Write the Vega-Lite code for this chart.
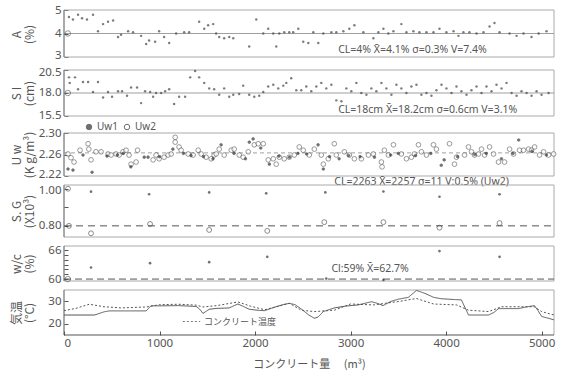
{
"$schema": "https://vega.github.io/schema/vega-lite/v6.json",
"padding": {"left": 10, "top": 4, "right": 9, "bottom": 2},
"background": "white",
"config": {
  "font": "Noto Sans CJK JP",
  "view": {"stroke": null},
  "axis": {"domain": false, "tickColor": "#555", "labelColor": "#555", "titleColor": "#555", "labelFontSize": 11.5, "labelFont": "Noto Sans", "titleFontSize": 12, "titleFontWeight": "normal", "titleFont": "Noto Sans CJK JP", "grid": false, "tickSize": -4, "labelPadding": 7, "titleLineHeight": 13},
  "legend": {"labelColor": "#555", "labelFont": "Noto Sans CJK JP"}
},
"datasets": {
  "A": [
    {"x":52,"v":4.7},{"x":94,"v":4.6},{"x":147,"v":4.8},{"x":189,"v":4.65},{"x":241,"v":4.6},{"x":304,"v":4.8},{"x":356,"v":4.1},{"x":409,"v":4.4},{"x":461,"v":4.5},{"x":514,"v":4.55},{"x":566,"v":3.85},{"x":597,"v":3.95},{"x":671,"v":4.1},{"x":723,"v":4.05},{"x":807,"v":3.9},{"x":860,"v":3.55},{"x":891,"v":3.7},{"x":954,"v":3.65},{"x":996,"v":4.1},{"x":1048,"v":3.85},{"x":1101,"v":3.6},{"x":1174,"v":4.0},{"x":1258,"v":4.05},{"x":1310,"v":4.05},{"x":1415,"v":4.5},{"x":1468,"v":4.2},{"x":1509,"v":4.35},{"x":1562,"v":4.4},{"x":1593,"v":4.0},{"x":1625,"v":3.85},{"x":1677,"v":3.8},{"x":1730,"v":3.85},{"x":1772,"v":3.8},{"x":1939,"v":3.45},{"x":2013,"v":4.6},{"x":2086,"v":4.0},{"x":2138,"v":4.2},{"x":2191,"v":4.0},{"x":2222,"v":3.45},{"x":2254,"v":4.0},{"x":2306,"v":4.05},{"x":2358,"v":4.05},{"x":2400,"v":4.05},{"x":2453,"v":4.2},{"x":2505,"v":3.65},{"x":2558,"v":3.6},{"x":2610,"v":4.05},{"x":2662,"v":3.6},{"x":2715,"v":4.0},{"x":2799,"v":4.05},{"x":2851,"v":4.05},{"x":2925,"v":4.1},{"x":2987,"v":4.2},{"x":3040,"v":4.35},{"x":3134,"v":4.05},{"x":3239,"v":3.8},{"x":3291,"v":4.05},{"x":3344,"v":4.2},{"x":3396,"v":4.0},{"x":3449,"v":4.1},{"x":3532,"v":4.4},{"x":3585,"v":4.05},{"x":3658,"v":4.1},{"x":3721,"v":4.05},{"x":3795,"v":4.05},{"x":3868,"v":4.05},{"x":3931,"v":4.2},{"x":4004,"v":4.05},{"x":4078,"v":4.1},{"x":4130,"v":3.9},{"x":4182,"v":4.05},{"x":4245,"v":4.05},{"x":4319,"v":4.0},{"x":4392,"v":4.05},{"x":4455,"v":4.3},{"x":4507,"v":4.45},{"x":4560,"v":4.05},{"x":4665,"v":4.0},{"x":4738,"v":3.9},{"x":4811,"v":4.0},{"x":4895,"v":3.85},{"x":4969,"v":4.0},{"x":5052,"v":4.1}
  ],
  "SI": [
    {"x":52,"v":19.7},{"x":60,"v":19.1},{"x":115,"v":19.7},{"x":147,"v":18.4},{"x":199,"v":19.2},{"x":252,"v":19.2},{"x":304,"v":18.1},{"x":356,"v":19.2},{"x":409,"v":17.5},{"x":461,"v":18.1},{"x":503,"v":17.6},{"x":566,"v":18.2},{"x":608,"v":18.2},{"x":660,"v":17.7},{"x":702,"v":18.6},{"x":765,"v":18.6},{"x":807,"v":16.9},{"x":849,"v":18.2},{"x":902,"v":18.1},{"x":933,"v":17.6},{"x":964,"v":18.0},{"x":1017,"v":18.0},{"x":1059,"v":18.2},{"x":1101,"v":18.4},{"x":1153,"v":16.8},{"x":1205,"v":17.6},{"x":1268,"v":17.6},{"x":1321,"v":19.7},{"x":1373,"v":20.4},{"x":1415,"v":19.7},{"x":1468,"v":19.1},{"x":1520,"v":18.5},{"x":1572,"v":18.4},{"x":1625,"v":17.8},{"x":1677,"v":18.5},{"x":1730,"v":17.6},{"x":1772,"v":17.8},{"x":1834,"v":17.9},{"x":1876,"v":18.8},{"x":1939,"v":17.8},{"x":1992,"v":17.6},{"x":2044,"v":17.7},{"x":2086,"v":18.1},{"x":2138,"v":18.7},{"x":2191,"v":18.9},{"x":2243,"v":18.5},{"x":2296,"v":18.8},{"x":2327,"v":19.1},{"x":2379,"v":19.6},{"x":2432,"v":18.3},{"x":2484,"v":18.3},{"x":2537,"v":18.7},{"x":2589,"v":18.2},{"x":2642,"v":18.7},{"x":2694,"v":19.1},{"x":2746,"v":18.5},{"x":2799,"v":18.9},{"x":2851,"v":17.2},{"x":2904,"v":17.1},{"x":2956,"v":18.5},{"x":3008,"v":18.2},{"x":3061,"v":19.1},{"x":3113,"v":18.0},{"x":3166,"v":17.8},{"x":3218,"v":18.5},{"x":3270,"v":18.2},{"x":3323,"v":19.1},{"x":3375,"v":18.5},{"x":3428,"v":17.8},{"x":3480,"v":18.9},{"x":3532,"v":18.5},{"x":3585,"v":18.0},{"x":3637,"v":18.7},{"x":3690,"v":18.9},{"x":3742,"v":17.8},{"x":3795,"v":18.0},{"x":3847,"v":17.7},{"x":3899,"v":18.3},{"x":3952,"v":18.9},{"x":4004,"v":18.5},{"x":4057,"v":18.0},{"x":4109,"v":18.7},{"x":4161,"v":18.2},{"x":4214,"v":17.8},{"x":4266,"v":18.3},{"x":4319,"v":18.7},{"x":4371,"v":18.0},{"x":4423,"v":18.7},{"x":4476,"v":18.2},{"x":4528,"v":18.9},{"x":4581,"v":18.5},{"x":4633,"v":19.1},{"x":4686,"v":18.0},{"x":4738,"v":17.7},{"x":4790,"v":18.2},{"x":4843,"v":18.0},{"x":4895,"v":17.7},{"x":4948,"v":18.2},{"x":5000,"v":17.8},{"x":5073,"v":18.0}
  ],
  "Uw": [
    {"x":42,"v":2.261,"s":"Uw2"},{"x":73,"v":2.254,"s":"Uw2"},{"x":105,"v":2.246,"s":"Uw2"},{"x":168,"v":2.268,"s":"Uw2"},{"x":252,"v":2.28,"s":"Uw2"},{"x":260,"v":2.27,"s":"Uw2"},{"x":283,"v":2.25,"s":"Uw2"},{"x":335,"v":2.265,"s":"Uw2"},{"x":388,"v":2.265,"s":"Uw2"},{"x":461,"v":2.261,"s":"Uw2"},{"x":493,"v":2.259,"s":"Uw2"},{"x":545,"v":2.261,"s":"Uw2"},{"x":577,"v":2.259,"s":"Uw2"},{"x":618,"v":2.265,"s":"Uw2"},{"x":650,"v":2.268,"s":"Uw2"},{"x":681,"v":2.259,"s":"Uw2"},{"x":702,"v":2.242,"s":"Uw2"},{"x":755,"v":2.246,"s":"Uw2"},{"x":770,"v":2.268,"s":"Uw2"},{"x":933,"v":2.25,"s":"Uw2"},{"x":964,"v":2.259,"s":"Uw2"},{"x":996,"v":2.252,"s":"Uw2"},{"x":1048,"v":2.255,"s":"Uw2"},{"x":1090,"v":2.259,"s":"Uw2"},{"x":1122,"v":2.261,"s":"Uw2"},{"x":1164,"v":2.292,"s":"Uw2"},{"x":1164,"v":2.283,"s":"Uw2"},{"x":1205,"v":2.274,"s":"Uw2"},{"x":1226,"v":2.268,"s":"Uw2"},{"x":1300,"v":2.261,"s":"Uw2"},{"x":1352,"v":2.259,"s":"Uw2"},{"x":1405,"v":2.268,"s":"Uw2"},{"x":1436,"v":2.261,"s":"Uw2"},{"x":1488,"v":2.255,"s":"Uw2"},{"x":1541,"v":2.252,"s":"Uw2"},{"x":1572,"v":2.259,"s":"Uw2"},{"x":1593,"v":2.261,"s":"Uw2"},{"x":1625,"v":2.27,"s":"Uw2"},
    {"x":1677,"v":2.259,"s":"Uw2"},{"x":1751,"v":2.268,"s":"Uw2"},{"x":1782,"v":2.27,"s":"Uw2"},{"x":1834,"v":2.259,"s":"Uw2"},{"x":1876,"v":2.255,"s":"Uw2"},{"x":1929,"v":2.265,"s":"Uw2"},{"x":1992,"v":2.278,"s":"Uw2"},{"x":2034,"v":2.28,"s":"Uw2"},{"x":2086,"v":2.28,"s":"Uw2"},{"x":2138,"v":2.25,"s":"Uw2"},{"x":2191,"v":2.252,"s":"Uw2"},{"x":2222,"v":2.242,"s":"Uw2"},{"x":2254,"v":2.255,"s":"Uw2"},{"x":2306,"v":2.252,"s":"Uw2"},{"x":2358,"v":2.255,"s":"Uw2"},{"x":2411,"v":2.259,"s":"Uw2"},{"x":2463,"v":2.274,"s":"Uw2"},{"x":2505,"v":2.268,"s":"Uw2"},{"x":2568,"v":2.259,"s":"Uw2"},{"x":2621,"v":2.27,"s":"Uw2"},{"x":2694,"v":2.259,"s":"Uw2"},{"x":2715,"v":2.242,"s":"Uw2"},{"x":2767,"v":2.252,"s":"Uw2"},{"x":2830,"v":2.28,"s":"Uw2"},{"x":2851,"v":2.259,"s":"Uw2"},{"x":2935,"v":2.265,"s":"Uw2"},{"x":2987,"v":2.259,"s":"Uw2"},{"x":3040,"v":2.252,"s":"Uw2"},{"x":3113,"v":2.252,"s":"Uw2"},{"x":3187,"v":2.259,"s":"Uw2"},{"x":3239,"v":2.261,"s":"Uw2"},{"x":3323,"v":2.246,"s":"Uw2"},{"x":3330,"v":2.237,"s":"Uw2"},{"x":3354,"v":2.268,"s":"Uw2"},{"x":3396,"v":2.259,"s":"Uw2"},
    {"x":3449,"v":2.278,"s":"Uw2"},{"x":3532,"v":2.261,"s":"Uw2"},{"x":3585,"v":2.252,"s":"Uw2"},{"x":3637,"v":2.255,"s":"Uw2"},{"x":3669,"v":2.261,"s":"Uw2"},{"x":3711,"v":2.278,"s":"Uw2"},{"x":3742,"v":2.265,"s":"Uw2"},{"x":3795,"v":2.259,"s":"Uw2"},{"x":3868,"v":2.278,"s":"Uw2"},{"x":3899,"v":2.27,"s":"Uw2"},{"x":4036,"v":2.28,"s":"Uw2"},{"x":4088,"v":2.242,"s":"Uw2"},{"x":4109,"v":2.255,"s":"Uw2"},{"x":4193,"v":2.259,"s":"Uw2"},{"x":4235,"v":2.274,"s":"Uw2"},{"x":4266,"v":2.265,"s":"Uw2"},{"x":4298,"v":2.259,"s":"Uw2"},{"x":4340,"v":2.261,"s":"Uw2"},{"x":4371,"v":2.27,"s":"Uw2"},{"x":4403,"v":2.259,"s":"Uw2"},{"x":4455,"v":2.274,"s":"Uw2"},{"x":4497,"v":2.261,"s":"Uw2"},{"x":4549,"v":2.246,"s":"Uw2"},{"x":4612,"v":2.246,"s":"Uw2"},{"x":4665,"v":2.27,"s":"Uw2"},{"x":4706,"v":2.261,"s":"Uw2"},{"x":4769,"v":2.268,"s":"Uw2"},{"x":4811,"v":2.268,"s":"Uw2"},{"x":4864,"v":2.27,"s":"Uw2"},{"x":4895,"v":2.268,"s":"Uw2"},{"x":4927,"v":2.274,"s":"Uw2"},{"x":4979,"v":2.259,"s":"Uw2"},{"x":5021,"v":2.265,"s":"Uw2"},{"x":5073,"v":2.259,"s":"Uw2"},{"x":5126,"v":2.261,"s":"Uw2"},
    {"x":42,"v":2.233,"s":"Uw1"},{"x":94,"v":2.231,"s":"Uw1"},{"x":199,"v":2.259,"s":"Uw1"},{"x":294,"v":2.227,"s":"Uw1"},{"x":450,"v":2.257,"s":"Uw1"},{"x":560,"v":2.259,"s":"Uw1"},{"x":620,"v":2.262,"s":"Uw1"},{"x":700,"v":2.237,"s":"Uw1"},{"x":840,"v":2.255,"s":"Uw1"},{"x":880,"v":2.255,"s":"Uw1"},{"x":1000,"v":2.256,"s":"Uw1"},{"x":1140,"v":2.27,"s":"Uw1"},{"x":1250,"v":2.262,"s":"Uw1"},{"x":1330,"v":2.258,"s":"Uw1"},{"x":1460,"v":2.256,"s":"Uw1"},{"x":1560,"v":2.252,"s":"Uw1"},{"x":1645,"v":2.278,"s":"Uw1"},{"x":1780,"v":2.262,"s":"Uw1"},{"x":1900,"v":2.252,"s":"Uw1"},{"x":1940,"v":2.283,"s":"Uw1"},{"x":1980,"v":2.289,"s":"Uw1"},{"x":2060,"v":2.272,"s":"Uw1"},{"x":2150,"v":2.242,"s":"Uw1"},{"x":2250,"v":2.257,"s":"Uw1"},{"x":2360,"v":2.255,"s":"Uw1"},{"x":2450,"v":2.262,"s":"Uw1"},{"x":2540,"v":2.261,"s":"Uw1"},{"x":2660,"v":2.278,"s":"Uw1"},{"x":2715,"v":2.233,"s":"Uw1"},{"x":2780,"v":2.256,"s":"Uw1"},{"x":2880,"v":2.252,"s":"Uw1"},{"x":2980,"v":2.258,"s":"Uw1"},{"x":3100,"v":2.256,"s":"Uw1"},{"x":3250,"v":2.255,"s":"Uw1"},{"x":3420,"v":2.259,"s":"Uw1"},{"x":3500,"v":2.262,"s":"Uw1"},{"x":3680,"v":2.258,"s":"Uw1"},{"x":3840,"v":2.262,"s":"Uw1"},{"x":3950,"v":2.24,"s":"Uw1"},{"x":3980,"v":2.25,"s":"Uw1"},{"x":4120,"v":2.256,"s":"Uw1"},{"x":4300,"v":2.26,"s":"Uw1"},{"x":4420,"v":2.262,"s":"Uw1"},{"x":4580,"v":2.252,"s":"Uw1"},{"x":4700,"v":2.262,"s":"Uw1"},{"x":4760,"v":2.287,"s":"Uw1"},{"x":4900,"v":2.266,"s":"Uw1"},{"x":5050,"v":2.259,"s":"Uw1"}
  ],
  "SG": [
    {"x":42,"v":1.0,"s":"Uw2"},{"x":52,"v":0.8,"s":"Uw2"},{"x":283,"v":0.76,"s":"Uw2"},{"x":901,"v":0.81,"s":"Uw2"},{"x":1520,"v":0.778,"s":"Uw2"},{"x":2128,"v":0.773,"s":"Uw2"},{"x":2725,"v":0.82,"s":"Uw2"},{"x":3344,"v":0.82,"s":"Uw2"},{"x":3931,"v":0.79,"s":"Uw2"},{"x":4560,"v":0.815,"s":"Uw2"},
    {"x":283,"v":0.984,"s":"Uw1"},{"x":891,"v":0.97,"s":"Uw1"},{"x":1520,"v":0.98,"s":"Uw1"},{"x":2117,"v":0.975,"s":"Uw1"},{"x":2736,"v":0.98,"s":"Uw1"},{"x":3344,"v":0.985,"s":"Uw1"},{"x":3931,"v":0.957,"s":"Uw1"},{"x":4560,"v":0.97,"s":"Uw1"}
  ],
  "WC": [
    {"x":283,"v":62.4},{"x":901,"v":63.3},{"x":1520,"v":63.5},{"x":2128,"v":64.6},{"x":2746,"v":60.1},{"x":3344,"v":59.8},{"x":3931,"v":65.8},{"x":4560,"v":64.6}
  ],
  "T": [
    {"x":0,"v":23.9,"s":"気温"},{"x":320,"v":23.9,"s":"気温"},{"x":420,"v":25.3,"s":"気温"},{"x":475,"v":25.7,"s":"気温"},{"x":860,"v":25.7,"s":"気温"},{"x":910,"v":27.9,"s":"気温"},{"x":1000,"v":27.9,"s":"気温"},{"x":1200,"v":28.0,"s":"気温"},{"x":1300,"v":27.8,"s":"気温"},{"x":1385,"v":27.6,"s":"気温"},{"x":1420,"v":26.5,"s":"気温"},{"x":1455,"v":24.6,"s":"気温"},{"x":1520,"v":26.4,"s":"気温"},{"x":1600,"v":26.8,"s":"気温"},{"x":1680,"v":26.9,"s":"気温"},{"x":1730,"v":27.0,"s":"気温"},{"x":1820,"v":28.7,"s":"気温"},{"x":1880,"v":27.6,"s":"気温"},{"x":1940,"v":26.4,"s":"気温"},{"x":2045,"v":25.9,"s":"気温"},{"x":2100,"v":25.8,"s":"気温"},{"x":2220,"v":27.5,"s":"気温"},{"x":2300,"v":28.5,"s":"気温"},{"x":2360,"v":29.0,"s":"気温"},{"x":2420,"v":28.4,"s":"気温"},{"x":2485,"v":26.5,"s":"気温"},{"x":2560,"v":24.0,"s":"気温"},{"x":2620,"v":22.5,"s":"気温"},{"x":2660,"v":23.0,"s":"気温"},{"x":2715,"v":25.4,"s":"気温"},{"x":2830,"v":27.0,"s":"気温"},{"x":2950,"v":27.8,"s":"気温"},{"x":3080,"v":28.3,"s":"気温"},{"x":3220,"v":29.7,"s":"気温"},{"x":3280,"v":29.0,"s":"気温"},{"x":3340,"v":28.0,"s":"気温"},{"x":3420,"v":29.8,"s":"気温"},{"x":3500,"v":30.8,"s":"気温"},{"x":3605,"v":31.6,"s":"気温"},{"x":3690,"v":34.6,"s":"気温"},{"x":3780,"v":33.3,"s":"気温"},{"x":3870,"v":31.6,"s":"気温"},{"x":3950,"v":31.0,"s":"気温"},{"x":4100,"v":30.6,"s":"気温"},{"x":4160,"v":30.5,"s":"気温"},{"x":4200,"v":27.0,"s":"気温"},{"x":4235,"v":23.9,"s":"気温"},{"x":4445,"v":23.9,"s":"気温"},{"x":4500,"v":25.0,"s":"気温"},{"x":4550,"v":26.7,"s":"気温"},{"x":4760,"v":26.7,"s":"気温"},{"x":4850,"v":27.5,"s":"気温"},{"x":4925,"v":28.0,"s":"気温"},{"x":4960,"v":26.0,"s":"気温"},{"x":5000,"v":23.3,"s":"気温"},{"x":5130,"v":21.8,"s":"気温"},
    {"x":0,"v":25.8,"s":"コンクリート温度"},{"x":125,"v":26.8,"s":"コンクリート温度"},{"x":265,"v":28.6,"s":"コンクリート温度"},{"x":420,"v":27.5,"s":"コンクリート温度"},{"x":600,"v":27.0,"s":"コンクリート温度"},{"x":860,"v":27.4,"s":"コンクリート温度"},{"x":1000,"v":28.4,"s":"コンクリート温度"},{"x":1200,"v":28.6,"s":"コンクリート温度"},{"x":1385,"v":28.2,"s":"コンクリート温度"},{"x":1455,"v":27.4,"s":"コンクリート温度"},{"x":1600,"v":28.0,"s":"コンクリート温度"},{"x":1820,"v":29.6,"s":"コンクリート温度"},{"x":1950,"v":27.8,"s":"コンクリート温度"},{"x":2100,"v":26.2,"s":"コンクリート温度"},{"x":2360,"v":29.0,"s":"コンクリート温度"},{"x":2485,"v":26.0,"s":"コンクリート温度"},{"x":2620,"v":25.4,"s":"コンクリート温度"},{"x":2830,"v":26.0,"s":"コンクリート温度"},{"x":3000,"v":28.7,"s":"コンクリート温度"},{"x":3240,"v":28.3,"s":"コンクリート温度"},{"x":3520,"v":29.9,"s":"コンクリート温度"},{"x":3690,"v":31.1,"s":"コンクリート温度"},{"x":3870,"v":28.7,"s":"コンクリート温度"},{"x":4110,"v":28.3,"s":"コンクリート温度"},{"x":4235,"v":26.0,"s":"コンクリート温度"},{"x":4445,"v":25.4,"s":"コンクリート温度"},{"x":4580,"v":27.5,"s":"コンクリート温度"},{"x":4925,"v":27.5,"s":"コンクリート温度"},{"x":5000,"v":25.4,"s":"コンクリート温度"},{"x":5130,"v":23.9,"s":"コンクリート温度"}
  ]
},
"bounds": "flush",
"spacing": 9,
"resolve": {"scale": {"y": "independent", "fill": "independent", "strokeDash": "independent"}, "legend": {"fill": "independent", "strokeDash": "independent"}},
"vconcat": [
  {
    "width": 490, "height": 51,
    "encoding": {
      "x": {"field": "x", "type": "quantitative", "scale": {"domain": [0, 5130]}, "axis": null},
      "y": {"field": "v", "type": "quantitative", "scale": {"domain": [2.83, 5]}, "axis": {"values": [3, 4, 5], "format": "d", "labelOffset": {"condition": {"test": "datum.value == 3", "value": -2}, "value": 0}, "title": ["A", "(%)"], "titleX": -41, "titleY": 24}}
    },
    "layer": [
      {"data": {"values": [{"x":0,"x2":5130,"v":5,"v2":5},{"x":0,"x2":5130,"v":3,"v2":3},{"x":5130,"x2":5130,"v":3,"v2":5}]}, "mark": {"type": "rule", "color": "#aaa", "strokeWidth": 1}, "encoding": {"x2": {"field": "x2"}, "y2": {"field": "v2"}}},
      {"data": {"values": [{"x":0,"x2":0,"v":3,"v2":5}]}, "mark": {"type": "rule", "color": "#555", "strokeWidth": 1}, "encoding": {"x2": {"field": "x2"}, "y2": {"field": "v2"}}},
      {"data": {"values": [{"x": 0, "x2": 5130, "v": 4}]}, "mark": {"type": "rule", "color": "#888", "strokeWidth": 0.8}, "encoding": {"x2": {"field": "x2"}}},
      {"data": {"name": "A"}, "mark": {"type": "point", "filled": true, "size": 6, "color": "#444"}},
      {"data": {"values": [{"x": 40, "v": 4}]}, "mark": {"type": "point", "size": 30, "color": "#444", "strokeWidth": 0.8}},
      {"data": {"values": [{"x": 2870, "v": 3.28, "t": "CL=4%  X̄=4.1%  σ=0.3%   V=7.4%"}]}, "mark": {"type": "text", "align": "left", "baseline": "middle", "fontSize": 10.5, "font": "Noto Sans", "color": "#555"}, "encoding": {"text": {"field": "t"}}}
    ]
  },
  {
    "width": 490, "height": 54,
    "encoding": {
      "x": {"field": "x", "type": "quantitative", "scale": {"domain": [0, 5130]}, "axis": null},
      "y": {"field": "v", "type": "quantitative", "scale": {"domain": [14.63, 20.5]}, "axis": {"values": [15.5, 18, 20.5], "format": ".1f", "labelOffset": {"condition": {"test": "datum.value == 20.5", "value": 2}, "value": 0}, "title": ["S I", "(cm)"], "titleX": -41, "titleY": 23}}
    },
    "layer": [
      {"data": {"values": [{"x":0,"x2":5130,"v":20.5,"v2":20.5},{"x":0,"x2":5130,"v":15.5,"v2":15.5},{"x":5130,"x2":5130,"v":15.5,"v2":20.5}]}, "mark": {"type": "rule", "color": "#aaa", "strokeWidth": 1}, "encoding": {"x2": {"field": "x2"}, "y2": {"field": "v2"}}},
      {"data": {"values": [{"x":0,"x2":0,"v":15.5,"v2":20.5}]}, "mark": {"type": "rule", "color": "#555", "strokeWidth": 1}, "encoding": {"x2": {"field": "x2"}, "y2": {"field": "v2"}}},
      {"data": {"values": [{"x": 0, "x2": 5130, "v": 18}]}, "mark": {"type": "rule", "color": "#888", "strokeWidth": 0.8}, "encoding": {"x2": {"field": "x2"}}},
      {"data": {"name": "SI"}, "mark": {"type": "point", "filled": true, "size": 6, "color": "#444"}},
      {"data": {"values": [{"x": 40, "v": 18}]}, "mark": {"type": "point", "size": 30, "color": "#444", "strokeWidth": 0.8}},
      {"data": {"values": [{"x": 2870, "v": 16.2, "t": "CL=18cm  X̄=18.2cm σ=0.6cm  V=3.1%"}]}, "mark": {"type": "text", "align": "left", "baseline": "middle", "fontSize": 10.5, "font": "Noto Sans", "color": "#555"}, "encoding": {"text": {"field": "t"}}}
    ]
  },
  {
    "width": 490, "height": 43,
    "encoding": {
      "x": {"field": "x", "type": "quantitative", "scale": {"domain": [0, 5130]}, "axis": null},
      "y": {"field": "v", "type": "quantitative", "scale": {"domain": [2.22, 2.30]}, "axis": {"values": [2.22, 2.26, 2.30], "format": ".2f", "labelOffset": {"condition": {"test": "datum.value < 2.225", "value": -2}, "value": 0}, "title": ["U w", "(K g/m³)"], "titleX": -41}}
    },
    "layer": [
      {"data": {"values": [{"x":0,"x2":5130,"v":2.30,"v2":2.30},{"x":0,"x2":5130,"v":2.22,"v2":2.22},{"x":5130,"x2":5130,"v":2.22,"v2":2.30}]}, "mark": {"type": "rule", "color": "#aaa", "strokeWidth": 1}, "encoding": {"x2": {"field": "x2"}, "y2": {"field": "v2"}}},
      {"data": {"values": [{"x":0,"x2":0,"v":2.22,"v2":2.30}]}, "mark": {"type": "rule", "color": "#555", "strokeWidth": 1}, "encoding": {"x2": {"field": "x2"}, "y2": {"field": "v2"}}},
      {"data": {"values": [{"x": 0, "x2": 5130, "v": 2.263}]}, "mark": {"type": "rule", "color": "#888", "strokeWidth": 0.8, "strokeDash": [4, 3]}, "encoding": {"x2": {"field": "x2"}}},
      {"data": {"name": "Uw"}, "transform": [{"filter": "datum.s == 'Uw2'"}], "mark": {"type": "point", "filled": true, "size": 22, "stroke": "#333", "strokeWidth": 0.7},
       "encoding": {
         "fill": {"field": "s", "type": "nominal", "scale": {"domain": ["Uw1", "Uw2"], "range": ["#333333", "#ffffff"]},
                  "legend": {"orient": "none", "legendX": 20, "legendY": -11, "direction": "horizontal", "title": null, "symbolType": "circle", "symbolSize": 30, "symbolStrokeColor": "#333", "symbolStrokeWidth": 1, "labelFontSize": 10, "labelFont": "Noto Sans", "columnPadding": 4, "labelOffset": 3}}
       }},
      {"data": {"name": "Uw"}, "transform": [{"filter": "datum.s == 'Uw1'"}], "mark": {"type": "point", "filled": true, "size": 7, "stroke": "#333", "strokeWidth": 0.7},
       "encoding": {"fill": {"field": "s", "type": "nominal"}}},
      {"data": {"values": [{"x": 2830, "v": 2.208, "t": "CL=2263  X̄=2257  σ=11   V:0.5%  (Uw2)"}]}, "mark": {"type": "text", "align": "left", "baseline": "middle", "fontSize": 10.5, "font": "Noto Sans", "color": "#555"}, "encoding": {"text": {"field": "t"}}}
    ]
  },
  {
    "width": 490, "height": 52,
    "encoding": {
      "x": {"field": "x", "type": "quantitative", "scale": {"domain": [0, 5130]}, "axis": null},
      "y": {"field": "v", "type": "quantitative", "scale": {"domain": [0.74, 1.02]}, "axis": {"values": [0.8, 0.9, 1.0], "format": ".2f", "labelExpr": "datum.value == 0.9 ? '' : datum.label", "labelOffset": {"condition": {"test": "datum.value > 0.95", "value": 2}, "value": 0}, "title": ["S. G", "(X10³)"], "titleX": -41}}
    },
    "layer": [
      {"data": {"values": [{"x":0,"x2":5130,"v":1.02,"v2":1.02},{"x":0,"x2":5130,"v":0.74,"v2":0.74},{"x":5130,"x2":5130,"v":0.74,"v2":1.02}]}, "mark": {"type": "rule", "color": "#aaa", "strokeWidth": 1}, "encoding": {"x2": {"field": "x2"}, "y2": {"field": "v2"}}},
      {"data": {"values": [{"x":0,"x2":0,"v":0.74,"v2":1.02}]}, "mark": {"type": "rule", "color": "#555", "strokeWidth": 1}, "encoding": {"x2": {"field": "x2"}, "y2": {"field": "v2"}}},
      {"data": {"values": [{"x": 0, "x2": 5130, "v": 0.8}]}, "mark": {"type": "rule", "color": "#555", "strokeWidth": 1, "strokeDash": [7, 5]}, "encoding": {"x2": {"field": "x2"}}},
      {"data": {"name": "SG"}, "transform": [{"filter": "datum.s == 'Uw2'"}], "mark": {"type": "point", "filled": false, "size": 24, "color": "#333", "strokeWidth": 0.8}},
      {"data": {"name": "SG"}, "transform": [{"filter": "datum.s == 'Uw1'"}], "mark": {"type": "point", "filled": true, "size": 7, "color": "#333"}}
    ]
  },
  {
    "width": 490, "height": 35,
    "encoding": {
      "x": {"field": "x", "type": "quantitative", "scale": {"domain": [0, 5130]}, "axis": null},
      "y": {"field": "v", "type": "quantitative", "scale": {"domain": [59.6, 66.85]}, "axis": {"values": [60, 61, 62, 63, 64, 65, 66], "labelExpr": "(datum.value == 60 || datum.value == 66) ? datum.label : ''", "title": ["w/c", "(%)"], "titleX": -41}}
    },
    "layer": [
      {"data": {"values": [{"x":0,"x2":5130,"v":66.85,"v2":66.85},{"x":0,"x2":5130,"v":59.6,"v2":59.6},{"x":5130,"x2":5130,"v":59.6,"v2":66.85}]}, "mark": {"type": "rule", "color": "#aaa", "strokeWidth": 1}, "encoding": {"x2": {"field": "x2"}, "y2": {"field": "v2"}}},
      {"data": {"values": [{"x":0,"x2":0,"v":59.6,"v2":66.85}]}, "mark": {"type": "rule", "color": "#555", "strokeWidth": 1}, "encoding": {"x2": {"field": "x2"}, "y2": {"field": "v2"}}},
      {"data": {"values": [{"x": 0, "x2": 5130, "v": 60}]}, "mark": {"type": "rule", "color": "#555", "strokeWidth": 1, "strokeDash": [7, 4]}, "encoding": {"x2": {"field": "x2"}}},
      {"data": {"name": "WC"}, "mark": {"type": "point", "filled": true, "size": 7, "color": "#333"}},
      {"data": {"values": [{"x": 40, "v": 60}]}, "mark": {"type": "point", "size": 30, "color": "#444", "strokeWidth": 0.8}},
      {"data": {"values": [{"x": 2800, "v": 62.1, "t": "Cl:59%   X̄=62.7%"}]}, "mark": {"type": "text", "align": "left", "baseline": "middle", "fontSize": 10.5, "font": "Noto Sans", "color": "#555"}, "encoding": {"text": {"field": "t"}}}
    ]
  },
  {
    "width": 490, "height": 45,
    "encoding": {
      "x": {"field": "x", "type": "quantitative", "scale": {"domain": [0, 5130]}, "axis": {"values": [0, 1000, 2000, 3000, 4000, 5000], "format": "d", "labelPadding": 6, "title": "コンクリート量　 (m³)", "titleFontSize": 11, "titlePadding": 10}},
      "y": {"field": "v", "type": "quantitative", "scale": {"domain": [15.2, 34.8]}, "axis": {"values": [20, 30], "title": ["気温", "(°C)"], "titleX": -41}}
    },
    "layer": [
      {"data": {"values": [{"x":0,"x2":5130,"v":34.8,"v2":34.8},{"x":5130,"x2":5130,"v":15.2,"v2":34.8}]}, "mark": {"type": "rule", "color": "#aaa", "strokeWidth": 1}, "encoding": {"x2": {"field": "x2"}, "y2": {"field": "v2"}}},
      {"data": {"values": [{"x":0,"x2":0,"v":15.2,"v2":34.8},{"x":0,"x2":5130,"v":15.2,"v2":15.2}]}, "mark": {"type": "rule", "color": "#555", "strokeWidth": 1}, "encoding": {"x2": {"field": "x2"}, "y2": {"field": "v2"}}},
      {"data": {"name": "T"}, "mark": {"type": "line", "strokeWidth": 1, "color": "#555"},
       "encoding": {
         "strokeDash": {"field": "s", "type": "nominal", "scale": {"domain": ["気温", "コンクリート温度"], "range": [[1, 0], [2, 2]]},
           "legend": {"values": ["コンクリート温度"], "orient": "none", "legendX": 118, "legendY": 22, "title": null, "symbolType": "stroke", "symbolSize": 300, "symbolStrokeColor": "#777", "symbolStrokeWidth": 1, "labelFontSize": 9, "labelOffset": 3}}
       }}
    ]
  }
]
}
